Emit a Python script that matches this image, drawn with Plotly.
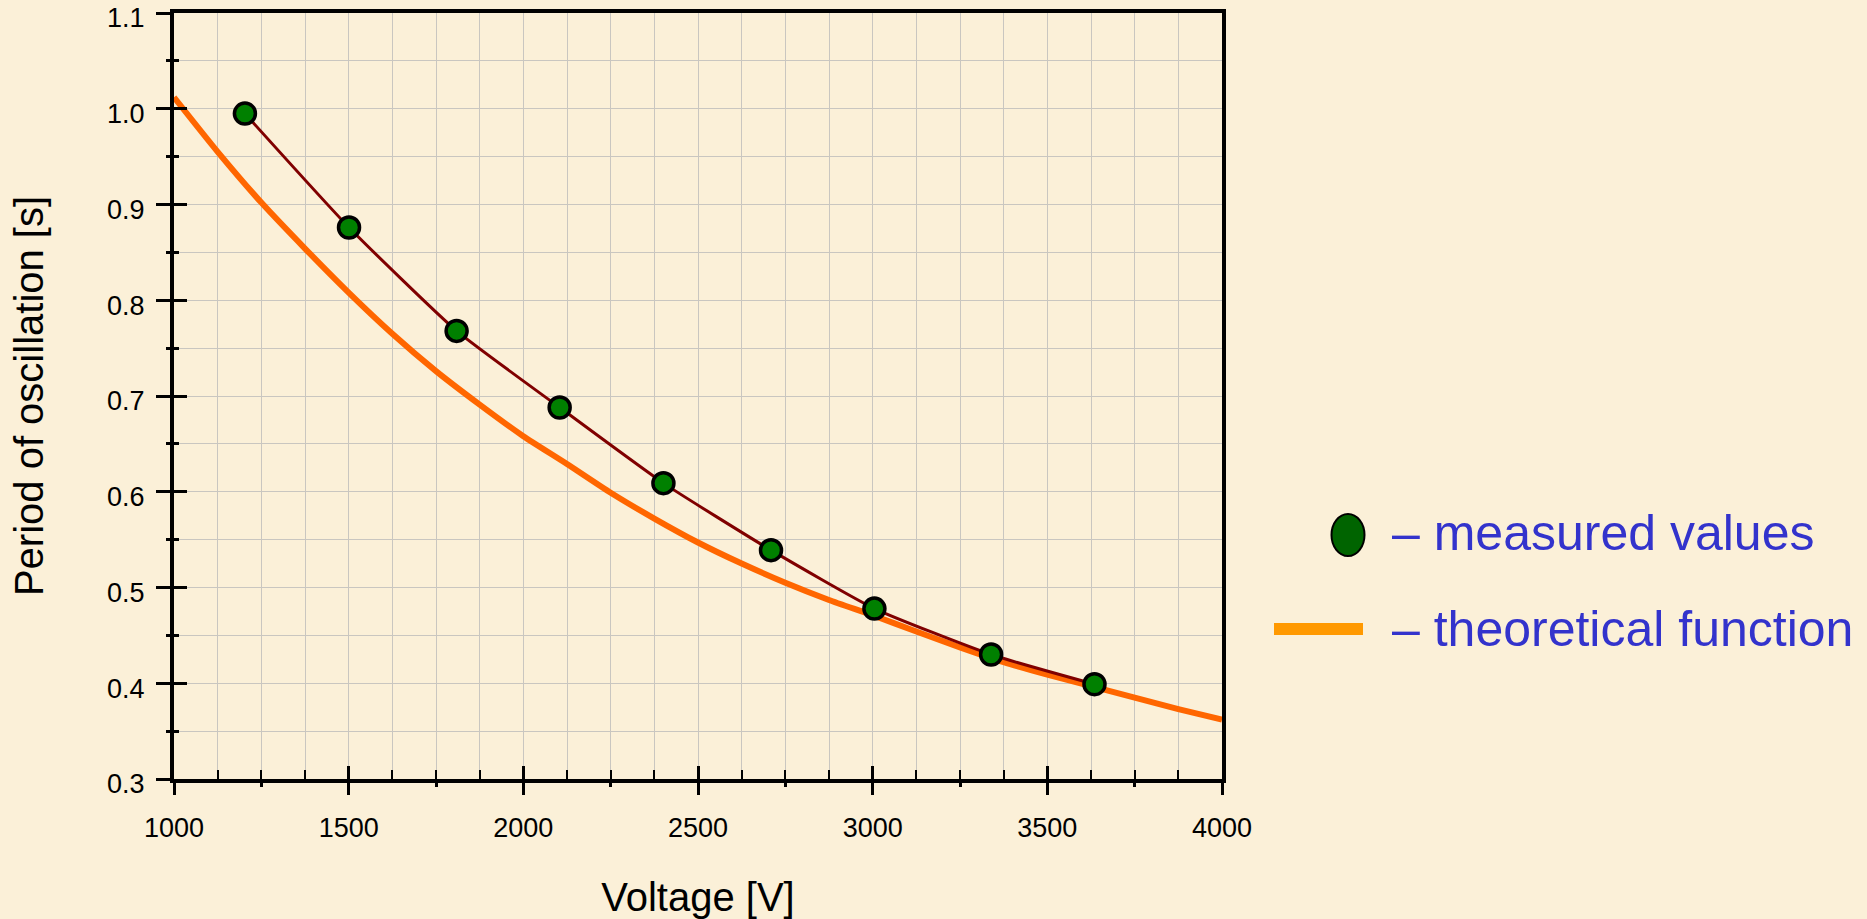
import plotly.graph_objects as go

# ---------------- data ----------------
meas_voltage = [1203, 1501, 1809, 2104, 2401, 2709, 3005, 3339, 3635]
meas_period = [0.995, 0.876, 0.768, 0.688, 0.609, 0.539, 0.478, 0.430, 0.399]

theory_voltage = [1000, 1125, 1250, 1375, 1500, 1625, 1750, 1875, 2000, 2125, 2250,
                  2375, 2500, 2625, 2750, 2875, 3000, 3125, 3250, 3375, 3500, 3625,
                  3750, 3875, 4000]
theory_period = [1.012, 0.955, 0.902, 0.854, 0.808, 0.765, 0.726, 0.691, 0.658, 0.629,
                 0.599, 0.572, 0.547, 0.525, 0.505, 0.487, 0.471, 0.454, 0.4375, 0.422,
                 0.409, 0.397, 0.385, 0.373, 0.362]

x_tick_vals = [1000, 1500, 2000, 2500, 3000, 3500, 4000]
x_tick_text = ["1000", "1500", "2000", "2500", "3000", "3500", "4000"]
y_tick_vals = [0.3, 0.4, 0.5, 0.6, 0.7, 0.8, 0.9, 1.0, 1.1]
y_tick_text = ["0.3", "0.4", "0.5", "0.6", "0.7", "0.8", "0.9", "1.0", "1.1"]

legend_labels = ["\u2013 measured values", "\u2013 theoretical function"]

# ---------------- style ----------------
W, H = 1867, 919
ML, MR, MT, MB = 174, 645, 13, 140
BG = "#FBF0D8"
GRID = "#C9C6C0"
FONT = "Liberation Sans, Arial, sans-serif"
ORANGE = "#FF6600"
MAROON = "#800000"
GREEN = "#008000"
BLUE = "#3333CC"

pw = W - ML - MR
ph = H - MT - MB


def px_x(p):
    return (p - ML) / pw


def px_y(p):
    return (H - MB - p) / ph


fig = go.Figure()

fig.add_trace(go.Scatter(
    x=theory_voltage, y=theory_period, mode="lines",
    line=dict(color=ORANGE, width=6, shape="spline", smoothing=0.6),
    showlegend=False, hoverinfo="skip"))

fig.add_trace(go.Scatter(
    x=meas_voltage, y=meas_period, mode="lines",
    line=dict(color=MAROON, width=3, shape="spline", smoothing=0.5),
    showlegend=False, hoverinfo="skip"))

fig.add_trace(go.Scatter(
    x=meas_voltage, y=meas_period, mode="markers",
    marker=dict(size=21, color=GREEN, line=dict(color="black", width=3.5)),
    showlegend=False))

# invisible trace to activate the overlay axes (outside tick marks)
fig.add_trace(go.Scatter(x=[None], y=[None], xaxis="x2", yaxis="y2",
                         showlegend=False, hoverinfo="skip"))

fig.update_layout(
    width=W, height=H,
    margin=dict(l=ML, r=MR, t=MT, b=MB, autoexpand=False),
    paper_bgcolor=BG, plot_bgcolor="rgba(0,0,0,0)",
    font=dict(family=FONT, color="black"),
    showlegend=False,
    xaxis=dict(
        range=[1000, 4000], tickmode="array", tickvals=x_tick_vals, ticktext=x_tick_text,
        ticks="inside", ticklen=13, tickwidth=3, tickcolor="black",
        showline=True, linewidth=4, linecolor="black", mirror=True,
        showgrid=True, gridcolor=GRID, gridwidth=1, zeroline=False, automargin=False,
        ticklabeloverflow="allow",
        minor=dict(dtick=125, tick0=1000, ticks="inside", ticklen=9, tickwidth=2,
                   tickcolor="black", showgrid=True, gridcolor=GRID, gridwidth=1),
        tickfont=dict(family=FONT, size=27, color="black"),
        ticklabelstandoff=22,
        title=dict(text="Voltage [V]", font=dict(family=FONT, size=40, color="black"),
                   standoff=43),
    ),
    xaxis2=dict(
        range=[1000, 4000], overlaying="x", anchor="y2", side="bottom",
        tickmode="linear", tick0=1000, dtick=500,
        ticks="outside", ticklen=15, tickwidth=3, tickcolor="black",
        showticklabels=False, showgrid=False, zeroline=False, showline=False,
        automargin=False,
        minor=dict(dtick=250, tick0=1000, ticks="outside", ticklen=7, tickwidth=3,
                   tickcolor="black", showgrid=False),
    ),
    yaxis=dict(
        range=[0.3, 1.1], tickmode="array", tickvals=y_tick_vals, ticktext=y_tick_text,
        ticks="inside", ticklen=13, tickwidth=3, tickcolor="black",
        showline=True, linewidth=4, linecolor="black", mirror=True,
        showgrid=True, gridcolor=GRID, gridwidth=1, zeroline=False, automargin=False,
        ticklabeloverflow="allow", ticklabelshift=5,
        minor=dict(dtick=0.05, tick0=0.3, ticks="inside", ticklen=5, tickwidth=3,
                   tickcolor="black", showgrid=True, gridcolor=GRID, gridwidth=1),
        tickfont=dict(family=FONT, size=27, color="black"),
        ticklabelstandoff=20,
        title=dict(text="Period of oscillation [s]",
                   font=dict(family=FONT, size=40, color="black"), standoff=52),
    ),
    yaxis2=dict(
        range=[0.3, 1.1], overlaying="y", anchor="x2", side="left",
        tickmode="linear", tick0=0.3, dtick=0.1,
        ticks="outside", ticklen=17, tickwidth=3, tickcolor="black",
        showticklabels=False, showgrid=False, zeroline=False, showline=False,
        automargin=False,
        minor=dict(dtick=0.05, tick0=0.3, ticks="outside", ticklen=7, tickwidth=3,
                   tickcolor="black", showgrid=False),
    ),
)

# ---- legend (drawn to the right of the plot) ----
key_cx, key_cy1, key_rx, key_ry = 1348, 535, 16.5, 21
line_x0, line_x1, key_cy2 = 1274, 1363, 629
text_x = 1390

fig.add_shape(type="circle", xref="paper", yref="paper",
              x0=px_x(key_cx - key_rx), x1=px_x(key_cx + key_rx),
              y0=px_y(key_cy1 + key_ry), y1=px_y(key_cy1 - key_ry),
              fillcolor="#006400", line=dict(color="black", width=2))
fig.add_shape(type="line", xref="paper", yref="paper",
              x0=px_x(line_x0), x1=px_x(line_x1), y0=px_y(key_cy2), y1=px_y(key_cy2),
              line=dict(color="#FF9900", width=12))

for label, cy in zip(legend_labels, [key_cy1 - 2, key_cy2]):
    fig.add_annotation(text=label, xref="paper", yref="paper",
                       x=px_x(text_x), y=px_y(cy), xanchor="left", yanchor="middle",
                       showarrow=False,
                       font=dict(family=FONT, size=50, color=BLUE))

fig.write_html("out.html", config={"displayModeBar": False},
               post_script="document.body.style.margin='0';")
